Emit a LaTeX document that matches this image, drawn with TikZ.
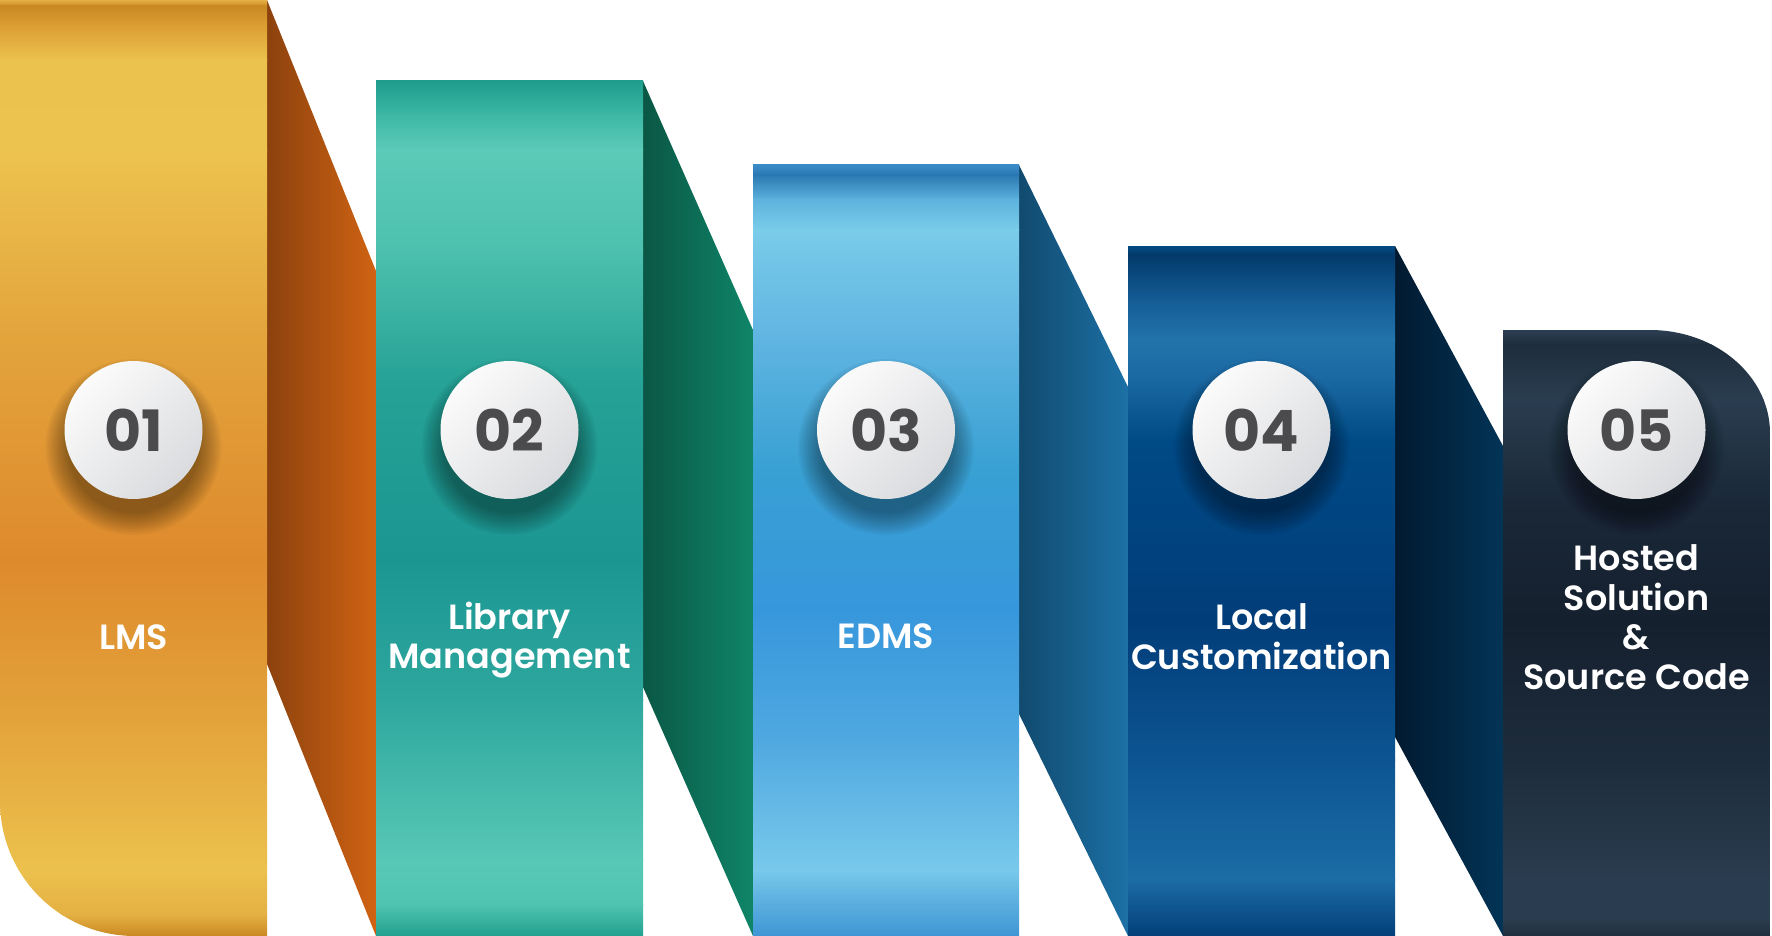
\documentclass[tikz,border=0pt]{standalone}
\usepackage{fontspec}
\setmainfont{Poppins}[BoldFont={Poppins SemiBold}]
\newfontfamily\numfont{Poppins}[UprightFont={Poppins Bold}]
\definecolor{numgray}{HTML}{4B4B4D}
\definecolor{cirA}{HTML}{FBFBFB}
\definecolor{cirB}{HTML}{DADBDE}
% panel 1
\definecolor{a0}{HTML}{E7B449}\definecolor{a1}{HTML}{C98822}\definecolor{a2}{HTML}{D99A30}
\definecolor{a3}{HTML}{ECC24E}\definecolor{a4}{HTML}{EDC34F}\definecolor{a5}{HTML}{E3A53D}
\definecolor{a6}{HTML}{DE8A2C}\definecolor{a7}{HTML}{E3A33B}\definecolor{a8}{HTML}{ECC14D}
\definecolor{a9}{HTML}{E4B043}
% panel 2
\definecolor{b0}{HTML}{1E9C8C}\definecolor{b1}{HTML}{3CB8A5}\definecolor{b2}{HTML}{5CCBB8}
\definecolor{b3}{HTML}{4DC0AE}\definecolor{b4}{HTML}{26A296}\definecolor{b5}{HTML}{1B9692}
\definecolor{b6}{HTML}{2EA79E}\definecolor{b7}{HTML}{58C8B6}\definecolor{b8}{HTML}{50C4B1}
\definecolor{b9}{HTML}{22A08F}
% panel 3
\definecolor{c0}{HTML}{3A8CC8}\definecolor{c1}{HTML}{2A78B2}\definecolor{c2}{HTML}{5DB3DE}
\definecolor{c3}{HTML}{7ACCE9}\definecolor{c4}{HTML}{62B6E2}\definecolor{c5}{HTML}{38A0D3}
\definecolor{c6}{HTML}{3797DC}\definecolor{c7}{HTML}{4FA8E0}\definecolor{c8}{HTML}{78C9EA}
\definecolor{c9}{HTML}{3E95D4}
% panel 4
\definecolor{d0}{HTML}{034C84}\definecolor{d1}{HTML}{023A6A}\definecolor{d2}{HTML}{145C95}
\definecolor{d3}{HTML}{2373AB}\definecolor{d4}{HTML}{1A68A2}\definecolor{d5}{HTML}{004A86}
\definecolor{d6}{HTML}{013D79}\definecolor{d7}{HTML}{0C5592}\definecolor{d8}{HTML}{1C6CA6}
\definecolor{d9}{HTML}{023F79}
% panel 5
\definecolor{e0}{HTML}{2C3F52}\definecolor{e1}{HTML}{1E2D3D}\definecolor{e2}{HTML}{2A3D50}
\definecolor{e3}{HTML}{1A2838}\definecolor{e4}{HTML}{15202E}\definecolor{e5}{HTML}{1D2C3C}
\definecolor{e6}{HTML}{2A3C4F}\definecolor{e7}{HTML}{1F2E3E}
% folds
\definecolor{f1l}{HTML}{8C420E}\definecolor{f1r}{HTML}{D06313}
\definecolor{f2l}{HTML}{0A5745}\definecolor{f2r}{HTML}{0F8568}
\definecolor{f3l}{HTML}{114A6E}\definecolor{f3r}{HTML}{1C71A6}
\definecolor{f4l}{HTML}{021A30}\definecolor{f4r}{HTML}{023456}
\newcommand\bandfill[3]{%
  \foreach \ya/\ca/\yb/\cb in {#3}{%
    \shade[top color=\ca, bottom color=\cb] (#1,\ya-0.6) rectangle (#2,\yb+0.6);}}
\newcommand\circshadow[2]{%
  \foreach \r in {66,68,...,88}{\fill[black, opacity=0.035] (#1,#2+17) circle (\r);}}
\begin{document}
\begin{tikzpicture}[x=1pt,y=-1pt,
  lbl/.style={text=white, font=\fontsize{35}{39.5}\selectfont\bfseries, align=center, inner sep=0pt},
  num/.style={circle, minimum size=138pt, inner sep=0pt, top color=cirA, bottom color=cirB,
    shading angle=45, text=numgray, font=\fontsize{57}{60}\selectfont\numfont}]
\useasboundingbox (0,0) rectangle (1772,936);
\fill[white] (0,0) rectangle (1772,936);
% folds
\shade[left color=f1l, right color=f1r] (267,0) -- (376,271) -- (376,936) -- (267,664) -- cycle;
\shade[left color=f2l, right color=f2r] (643,81) -- (753,330) -- (753,936) -- (643,687) -- cycle;
\shade[left color=f3l, right color=f3r] (1019,165) -- (1128,387) -- (1128,936) -- (1019,714) -- cycle;
\shade[left color=f4l, right color=f4r] (1395,246) -- (1503,446) -- (1503,936) -- (1395,737) -- cycle;
% panel 1
\begin{scope}
\clip (0,0) -- (267,0) -- (267,936) -- (135,936) .. controls (60,936) and (0,876) .. (0,801) -- cycle;
\bandfill{0}{267}{0/a0/6/a1, 6/a1/22/a2, 22/a2/60/a3, 60/a3/150/a4, 150/a4/330/a5, 330/a5/560/a6,
  560/a6/720/a7, 720/a7/870/a8, 870/a8/915/a9, 915/a9/936/a1}
\end{scope}
% panel 2
\begin{scope}
\clip (376,81) rectangle (643,936);
\bandfill{376}{643}{81/b0/115/b1, 115/b1/150/b2, 150/b2/250/b3, 250/b3/380/b4, 380/b4/560/b5,
  560/b5/700/b6, 700/b6/860/b7, 860/b7/905/b8, 905/b8/936/b9}
\end{scope}
% panel 3
\begin{scope}
\clip (753,165) rectangle (1019,936);
\bandfill{753}{1019}{165/c0/175/c1, 175/c1/200/c2, 200/c2/230/c3, 230/c3/330/c4, 330/c4/470/c5,
  470/c5/610/c6, 610/c6/740/c7, 740/c7/870/c8, 870/c8/936/c9}
\end{scope}
% panel 4
\begin{scope}
\clip (1128,246) rectangle (1395,936);
\bandfill{1128}{1395}{246/d0/255/d1, 255/d1/300/d2, 300/d2/340/d3, 340/d3/380/d4, 380/d4/440/d5,
  440/d5/620/d6, 620/d6/760/d7, 760/d7/880/d8, 880/d8/936/d9}
\end{scope}
% panel 5
\begin{scope}
\clip (1503,330) -- (1650,330) .. controls (1716,330) and (1770,376) .. (1770,433) -- (1770,936) -- (1503,936) -- cycle;
\bandfill{1503}{1770}{330/e0/345/e1, 345/e1/400/e2, 400/e2/500/e3, 500/e3/620/e4,
  620/e4/760/e5, 760/e5/880/e6, 880/e6/920/e6, 920/e6/936/e7}
\end{scope}
% shadows
\circshadow{133.5}{430}
\circshadow{509.5}{430}
\circshadow{886}{430}
\circshadow{1261.5}{430}
\circshadow{1636.5}{430}
% number circles
\node[num] (n1) at (133.5,430) {01};
\node[num] (n2) at (509.5,430) {02};
\node[num] (n3) at (886,430) {03};
\node[num] (n4) at (1261.5,430) {04};
\node[num] (n5) at (1636.5,430) {05};
% labels
\node[lbl] (t1) at (133.5,637.5) {LMS};
\node[lbl] (t2) at (509.5,640) {Library\\Management};
\node[lbl] (t3) at (886,636.5) {EDMS};
\node[lbl] (t4) at (1261.5,636.5) {Local\\Customization};
\node[lbl] (t5) at (1636.5,617) {Hosted\\Solution\\\&\\Source Code};
\end{tikzpicture}
\end{document}
